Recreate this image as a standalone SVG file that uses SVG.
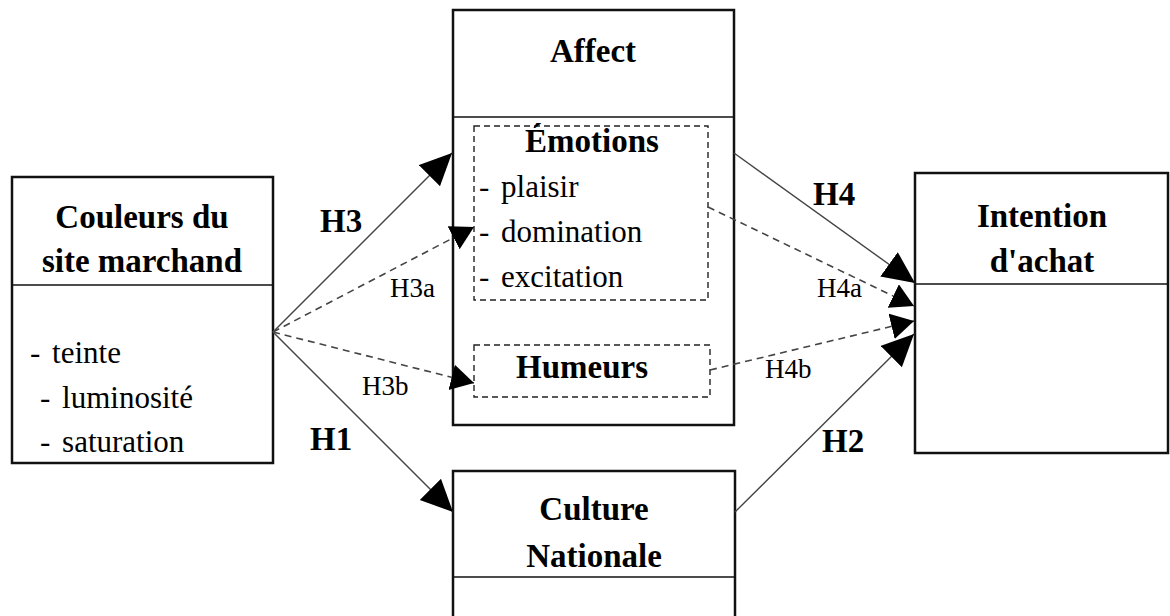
<svg xmlns="http://www.w3.org/2000/svg" width="1170" height="616" viewBox="0 0 1170 616">
<style>
.box{fill:#fff;stroke:#111;stroke-width:2.5}
.div{stroke:#111;stroke-width:1.5}
.dbox{fill:none;stroke:#222;stroke-width:1.4;stroke-dasharray:6,4}
.t{font-family:"Liberation Serif","Times New Roman",serif;font-weight:bold;font-size:33px;fill:#000;text-anchor:middle}
.l{font-family:"Liberation Serif","Times New Roman",serif;font-size:31px;fill:#000;word-spacing:4px}
.hb{font-family:"Liberation Serif","Times New Roman",serif;font-weight:bold;font-size:33px;fill:#000}
.hs{font-family:"Liberation Serif","Times New Roman",serif;font-size:27px;fill:#000}
.solid{fill:none;stroke:#444;stroke-width:1.4}
.dash{fill:none;stroke:#444;stroke-width:1.6;stroke-dasharray:7,5}
</style>
<defs>
<marker id="big" markerUnits="userSpaceOnUse" markerWidth="34" markerHeight="32" refX="32" refY="15" orient="auto">
<path d="M0,0 L32,15 L0,30 z" fill="#000"/>
</marker>
<marker id="small" markerUnits="userSpaceOnUse" markerWidth="26" markerHeight="28" refX="23" refY="13" orient="auto">
<path d="M0,0 L23,13 L0,26 z" fill="#000"/>
</marker>
</defs>
<rect width="1170" height="616" fill="#fff"/>

<g id="couleurs">
<rect class="box" x="12" y="177" width="261" height="286"/>
<line class="div" x1="12" y1="285" x2="273" y2="285"/>
<text class="t" x="142" y="228">Couleurs du</text>
<text class="t" x="142" y="272">site marchand</text>
<text class="l" x="30" y="363">- teinte</text>
<text class="l" x="40" y="408">- luminosité</text>
<text class="l" x="40" y="452">- saturation</text>
</g>

<g id="affect">
<rect class="box" x="453" y="10" width="281" height="415"/>
<line class="div" x1="453" y1="117" x2="734" y2="117"/>
<text class="t" x="593" y="62">Affect</text>
</g>

<g id="emotions">
<rect class="dbox" x="474" y="126" width="234" height="174"/>
<text class="t" x="592" y="152">Émotions</text>
<text class="l" x="479" y="197">- plaisir</text>
<text class="l" x="479" y="242">- domination</text>
<text class="l" x="479" y="287">- excitation</text>
</g>

<g id="humeurs">
<rect class="dbox" x="474" y="345" width="236" height="52"/>
<text class="t" x="582" y="378">Humeurs</text>
</g>

<g id="intention">
<rect class="box" x="915" y="173" width="253" height="280"/>
<line class="div" x1="915" y1="284" x2="1168" y2="284"/>
<text class="t" x="1042" y="227">Intention</text>
<text class="t" x="1042" y="272">d'achat</text>
</g>

<g id="culture">
<rect class="box" x="453" y="471" width="282" height="160"/>
<line class="div" x1="453" y1="577" x2="735" y2="577"/>
<text class="t" x="594" y="520">Culture</text>
<text class="t" x="594" y="567">Nationale</text>
</g>

<g id="connectors">
<path class="solid" d="M273,332 L452,153" marker-end="url(#big)"/>
<path class="dash" d="M273,332 L474,227" marker-end="url(#small)"/>
<path class="dash" d="M273,332 L474,383" marker-end="url(#small)"/>
<path class="solid" d="M273,332 L453,512" marker-end="url(#big)"/>
<path class="solid" d="M734,153 L915,283" marker-end="url(#big)"/>
<path class="dash" d="M708,207 L914,306" marker-end="url(#small)"/>
<path class="dash" d="M710,370 L914,321" marker-end="url(#small)"/>
<path class="solid" d="M735,512 L914,334" marker-end="url(#big)"/>
</g>

<g id="labels">
<text class="hb" x="320" y="232">H3</text>
<text class="hs" x="390" y="297">H3a</text>
<text class="hs" x="362" y="395">H3b</text>
<text class="hb" x="310" y="450">H1</text>
<text class="hb" x="813" y="205">H4</text>
<text class="hs" x="817" y="297">H4a</text>
<text class="hs" x="765" y="378">H4b</text>
<text class="hb" x="822" y="452">H2</text>
</g>
</svg>
